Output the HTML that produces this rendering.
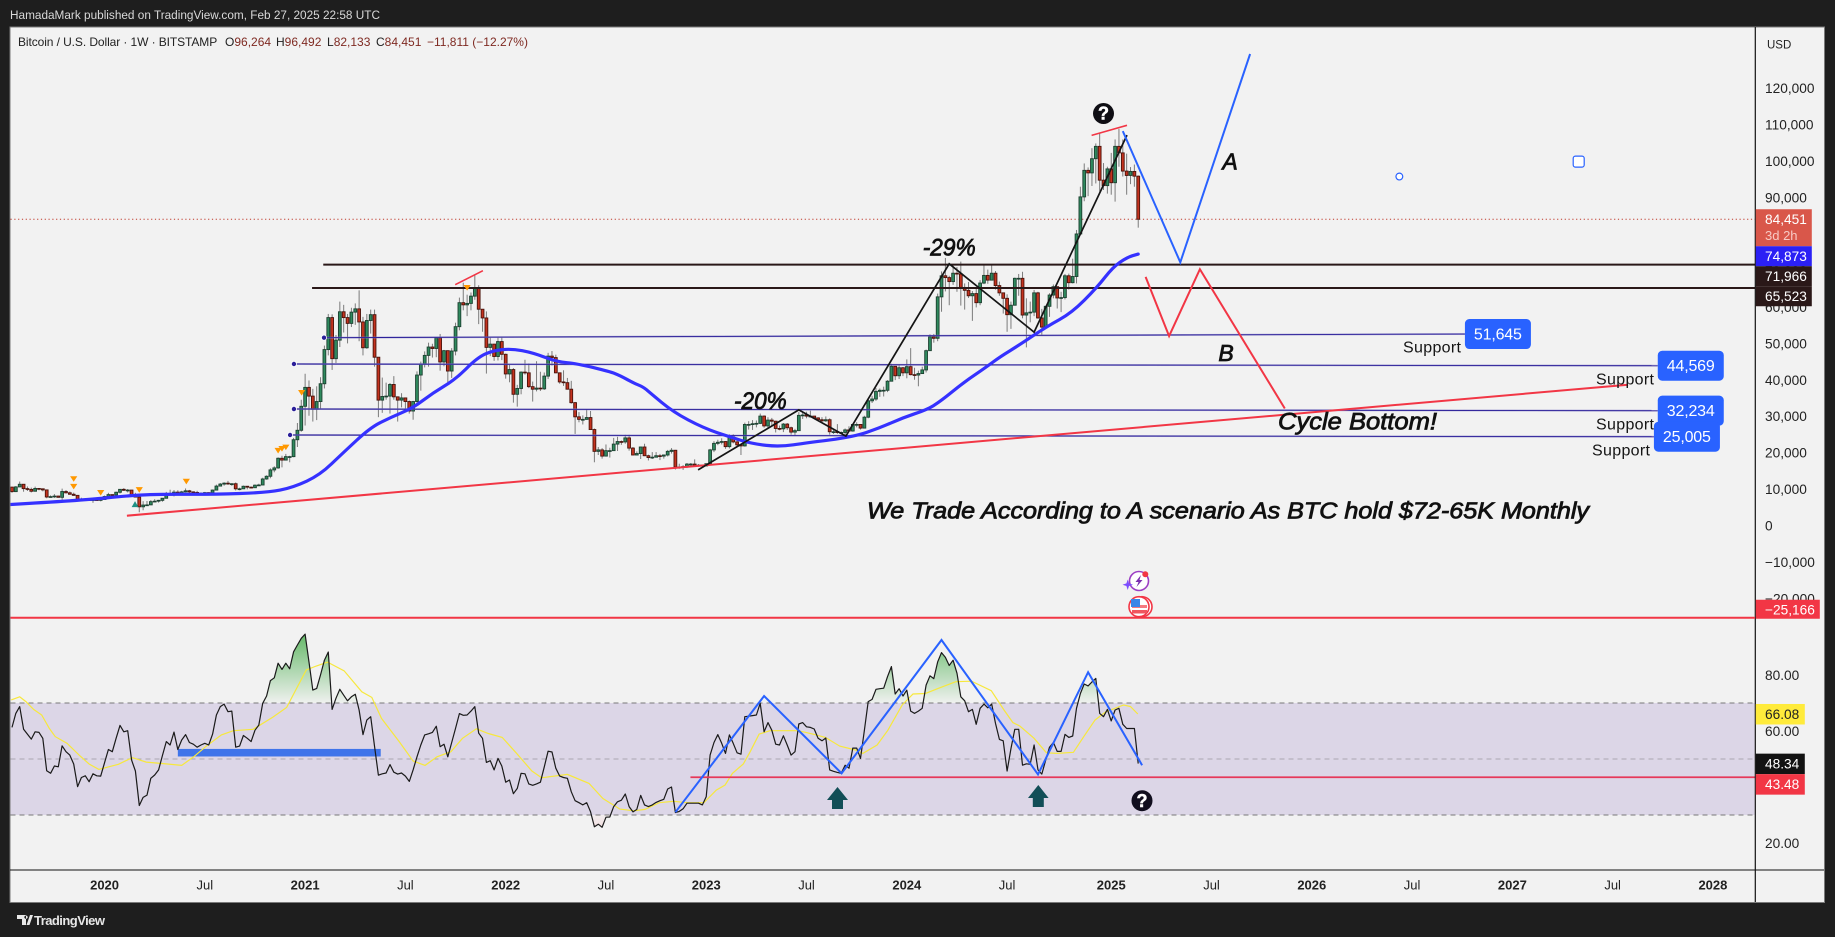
<!DOCTYPE html>
<html lang="en">
<head>
<meta charset="utf-8">
<title>Bitcoin / U.S. Dollar weekly chart</title>
<style>
html,body{margin:0;padding:0;background:#1e1e1e;}
svg{display:block;font-family:"Liberation Sans",sans-serif;}
</style>
</head>
<body>
<svg id="chart" xmlns="http://www.w3.org/2000/svg" width="1835" height="937" viewBox="0 0 1835 937">
  <defs>
    <clipPath id="clipMain"><rect x="10.5" y="27.5" width="1744.5" height="590.5"/></clipPath>
    <clipPath id="clipRsi"><rect x="10.5" y="618" width="1744.5" height="252"/></clipPath>
    <clipPath id="clipOver"><rect x="10.5" y="618" width="1744.5" height="85"/></clipPath>
    <clipPath id="clipUnder"><rect x="10.5" y="815" width="1744.5" height="55"/></clipPath>
    <linearGradient id="gradOver" gradientUnits="userSpaceOnUse" x1="0" y1="634" x2="0" y2="703">
      <stop offset="0" stop-color="#4caf50" stop-opacity="0.85"/>
      <stop offset="1" stop-color="#4caf50" stop-opacity="0.02"/>
    </linearGradient>
    <linearGradient id="gradUnder" gradientUnits="userSpaceOnUse" x1="0" y1="815" x2="0" y2="830">
      <stop offset="0" stop-color="#f23645" stop-opacity="0.02"/>
      <stop offset="1" stop-color="#f23645" stop-opacity="0.12"/>
    </linearGradient>
  </defs>

  <rect x="0" y="0" width="1835" height="937" fill="#1e1e1e"/>
  <text x="10" y="19" font-size="12.3" fill="#d9d9d9" textLength="370" lengthAdjust="spacingAndGlyphs">HamadaMark published on TradingView.com, Feb 27, 2025 22:58 UTC</text>
  <rect x="10" y="27" width="1814.5" height="875.5" fill="#f2f2f2" stroke="#7a7a7a" stroke-width="1"/>

  <g id="rsiBack"></g>
  <g id="mainPane" clip-path="url(#clipMain)"></g>
  <g id="rsiPane" clip-path="url(#clipRsi)"></g>

  <g fill="#111" stroke="#111" stroke-width="0.8" font-style="italic">
    <text x="922.7" y="255.5" font-size="24" textLength="53" lengthAdjust="spacingAndGlyphs">-29%</text>
    <text x="734" y="409" font-size="24" textLength="52.7" lengthAdjust="spacingAndGlyphs">-20%</text>
    <text x="1230" y="169.7" font-size="23" text-anchor="middle">A</text>
    <text x="1226" y="361" font-size="23" text-anchor="middle">B</text>
    <text x="1278" y="429.5" font-size="24.5" textLength="159" lengthAdjust="spacingAndGlyphs">Cycle Bottom!</text>
    <text x="867" y="518.5" font-size="23" textLength="722" lengthAdjust="spacingAndGlyphs">We Trade According to A scenario As BTC hold $72-65K Monthly</text>
  </g>

  <g font-size="16" fill="#151515">
    <text x="1403" y="352.5" textLength="58">Support</text>
    <text x="1596" y="384.5" textLength="58">Support</text>
    <text x="1596" y="429.5" textLength="58">Support</text>
    <text x="1592" y="455.5" textLength="58">Support</text>
  </g>

  <g>
    <circle cx="1103.5" cy="113.5" r="10.5" fill="#0f0e14"/>
    <text x="1103.5" y="119.7" text-anchor="middle" font-size="18" font-weight="700" fill="#fff" stroke="#fff" stroke-width="0.5">?</text>
  </g>
  <g>
    <circle cx="1142" cy="800.7" r="10.5" fill="#110e1e"/>
    <text x="1142" y="806.9" text-anchor="middle" font-size="18" font-weight="700" fill="#fff" stroke="#fff" stroke-width="0.5">?</text>
  </g>
  <g>
    <polygon points="837.5,787 848,800 843,800 843,809 832,809 832,800 827,800" fill="#124e57"/>
  </g>
  <g>
    <polygon points="1038.3,785 1048.6,798 1043.8,798 1043.8,807 1032.8,807 1032.8,798 1028,798" fill="#124e57"/>
  </g>

  <g>
    <circle cx="1139" cy="581" r="9.5" fill="#fff" stroke="#9c3fc4" stroke-width="1.6"/>
    <polygon points="1141,575 1135.5,582 1138.5,582 1136.5,587 1142.5,580 1139.5,580" fill="#7b2fb0"/>
    <polygon points="1127.7,579.5 1129,583.4 1133,584.7 1129,586 1127.7,590 1126.4,586 1122.5,584.7 1126.4,583.4" fill="#7c4dff"/>
    <circle cx="1145.3" cy="574.3" r="3" fill="#f23645"/>
  </g>
  <g>
    <circle cx="1142" cy="606.7" r="10" fill="#fff" stroke="#f23645" stroke-width="1.6"/>
    <circle cx="1139" cy="606.7" r="10" fill="#fff" stroke="#f23645" stroke-width="1.6"/>
    <rect x="1132" y="605" width="15" height="3" fill="#f57a80"/>
    <rect x="1132" y="610" width="15" height="3.5" fill="#f0565f"/>
    <rect x="1131" y="599" width="9" height="8" fill="#3b86e8"/>
  </g>

  <line x1="10" y1="870" x2="1824" y2="870" stroke="#111" stroke-width="1"/>
  <line x1="1755.3" y1="27" x2="1755.3" y2="902" stroke="#111" stroke-width="1.2"/>

  <text x="1767" y="48.5" font-size="11.5" fill="#222">USD</text>
  <g id="priceAxis"></g>
  <g id="rsiAxis"></g>
  <g id="timeAxis"></g>
  <g id="tags"></g>

  <text y="46" font-size="12" fill="#222">
    <tspan x="18" textLength="199">Bitcoin / U.S. Dollar · 1W · BITSTAMP</tspan>
    <tspan x="225">O</tspan><tspan fill="#7f2a22">96,264</tspan>
    <tspan x="276">H</tspan><tspan fill="#7f2a22">96,492</tspan>
    <tspan x="327">L</tspan><tspan fill="#7f2a22">82,133</tspan>
    <tspan x="376">C</tspan><tspan fill="#7f2a22">84,451</tspan>
    <tspan x="427" fill="#7f2a22">−11,811 (−12.27%)</tspan>
  </text>

  <g>
    <path d="M17 915h9v10h-4v-6h-5zM33 915l-3.5 10h-3l3.5-10z M26 915.5a1.7 1.7 0 1 0 .01 0z" fill="#e8e8e8"/>
    <text x="34" y="925" font-size="13" font-weight="700" fill="#e8e8e8" textLength="71">TradingView</text>
  </g>

<script>
// ---------- weekly candles: week -23 (22 Jul 2019) to week 269 (24 Feb 2025), values in thousand USD ----------
const firstWeek = -23;
const firstOpen = 10.77;
const closes = [
 9.53,10.82,11.55,10.35,10.14,9.63,10.4,10.3,10.0,8.05,8.15,8.3,7.96,9.55,9.2,8.8,8.5,7.3,7.4,7.5,7.08,7.3,7.25,7.35,
 8.18,8.7,8.6,9.35,10.15,9.9,9.95,8.52,8.03,5.35,5.83,5.88,6.77,6.9,7.13,7.7,8.9,8.72,9.38,8.9,9.45,9.75,9.45,9.3,9.0,9.07,9.25,9.2,9.95,11.05,11.6,11.85,11.65,11.7,10.3,10.3,11.0,10.75,10.6,11.3,11.35,13.0,13.75,15.5,16.05,18.7,18.2,19.15,19.15,23.8,26.4,33.0,
 38.2,35.8,32.2,34.3,39.2,48.6,57.4,46.1,51.2,59.0,57.4,55.8,58.9,59.8,56.2,49.1,56.6,58.2,46.5,34.7,35.7,35.8,39.0,35.6,34.7,35.3,34.3,31.7,34.3,41.6,44.6,47.0,49.3,48.9,51.8,45.2,48.3,42.7,48.2,54.9,61.5,60.9,61.3,63.3,65.5,59.7,57.3,49.2,50.1,46.7,50.8,47.3,
 41.9,43.1,36.3,37.9,42.4,42.2,38.4,37.7,38.0,37.8,41.3,46.8,46.4,42.2,39.7,39.5,37.7,34.0,30.1,29.4,29.4,29.9,26.6,20.6,21.0,19.3,20.8,20.8,22.6,23.3,23.2,24.3,21.5,19.6,20.0,21.8,19.4,18.9,19.0,19.4,19.3,19.6,20.6,20.9,16.3,16.3,16.4,17.1,17.1,16.8,16.8,16.6,
 17.2,21.0,22.8,23.1,23.3,21.9,24.6,23.2,22.4,22.1,28.0,28.0,28.2,28.3,30.3,27.6,29.2,28.9,26.9,26.8,28.1,27.1,25.9,26.3,30.5,30.6,30.3,30.3,29.8,29.3,29.0,29.3,26.0,26.0,25.8,25.8,26.5,26.2,28.0,28.0,27.0,30.0,34.5,35.0,37.1,37.4,37.4,39.9,44.0,41.4,43.6,42.2,
 43.9,41.7,41.6,42.0,43.0,48.3,52.1,51.7,63.1,68.9,68.4,67.3,69.6,69.4,65.7,64.9,63.4,64.0,61.5,66.9,69.0,67.7,69.6,66.2,64.2,62.7,58.2,60.8,68.2,68.2,58.1,58.7,58.9,64.2,57.3,54.8,60.5,63.6,65.9,62.8,62.9,68.9,67.0,68.7,80.4,90.6,97.9,97.2,101.1,104.5,95.2,93.7,98.3,
 94.5,104.5,102.7,97.7,96.5,97.6,96.3,84.451
];
const highs = [
 10.65,11.05,12.3,11.55,10.95,10.62,10.9,10.45,10.35,10.05,8.5,8.85,8.4,10.35,9.95,9.55,9.25,8.6,7.85,7.75,7.45,7.5,7.7,7.5,
 8.45,9.2,8.75,9.55,10.15,10.5,10.25,9.97,9.2,8.15,6.9,6.95,7.2,7.45,7.25,7.75,9.45,10.05,9.95,9.9,9.75,10.4,10.0,9.6,9.75,9.3,9.45,9.35,10.1,11.45,11.9,12.1,12.48,11.8,12.05,10.6,11.2,10.95,10.95,11.5,11.7,13.35,14.0,15.95,16.5,18.95,19.4,19.9,19.4,24.3,28.4,34.8,
 41.95,40.1,37.8,38.5,41.0,49.7,58.4,58.3,52.6,61.8,60.9,58.4,60.1,61.3,64.9,57.6,58.4,59.6,59.6,46.5,40.9,39.5,39.4,41.3,35.7,36.6,35.1,34.6,34.5,42.6,45.3,48.1,50.5,50.2,52.0,52.9,48.5,46.0,49.0,56.0,62.9,67.0,63.7,64.3,69.0,66.3,59.4,59.1,51.9,50.1,51.9,52.1,
 47.5,44.4,43.5,38.9,42.6,45.8,44.8,39.8,45.4,42.5,42.3,47.7,48.2,47.2,41.5,42.9,40.8,40.0,34.2,31.4,30.5,32.2,31.7,26.9,21.8,21.5,22.5,21.6,24.3,24.6,23.6,25.2,25.2,21.8,20.6,21.9,22.7,19.7,20.4,20.4,19.9,19.7,21.0,21.5,21.0,17.2,16.8,17.4,17.4,18.4,17.1,16.9,
 17.3,21.3,23.4,23.8,24.2,23.4,25.3,25.3,23.9,22.6,28.5,28.9,29.2,29.1,31.0,30.5,30.0,29.8,29.0,27.7,28.4,28.4,27.4,26.8,31.4,31.3,31.5,31.8,30.3,30.0,30.0,30.2,29.7,26.8,28.1,26.1,26.9,27.5,28.0,28.6,28.0,30.4,35.2,35.9,38.0,37.9,38.4,40.2,44.7,43.4,44.3,43.8,
 45.9,49.0,43.6,42.8,43.9,48.6,52.8,52.9,64.0,70.1,73.8,68.9,71.7,71.3,72.8,66.8,67.2,64.7,65.5,67.7,72.0,70.6,71.9,70.2,67.3,63.3,63.8,61.8,68.4,69.4,70.0,62.7,61.8,65.0,64.5,59.8,60.6,64.1,66.5,65.5,64.5,69.4,69.5,73.6,81.5,93.4,99.8,98.7,104.0,105.3,108.3,99.9,98.9,
 102.7,106.4,109.3,106.4,102.5,98.8,99.5,96.492
];
const lows = [
 9.2,9.4,10.9,9.5,9.7,9.3,9.6,9.9,9.6,7.7,7.9,7.8,7.9,7.3,9.0,8.7,8.4,6.8,6.9,7.1,7.0,6.45,7.1,6.85,
 7.6,8.05,8.25,8.6,9.0,9.7,9.3,8.4,8.0,3.85,4.4,5.7,5.9,6.75,6.5,6.75,7.7,8.5,8.2,8.8,8.65,9.3,8.9,9.0,8.85,8.9,9.1,9.05,9.1,9.9,11.0,11.15,11.4,11.1,9.85,9.9,10.3,10.15,10.4,10.55,11.2,11.4,12.8,13.2,14.85,15.8,16.2,18.1,17.6,19.0,21.8,26.0,
 27.7,30.4,28.8,29.2,32.3,37.9,47.0,43.0,44.9,49.3,53.3,50.3,54.8,55.4,50.9,47.0,48.8,53.0,43.9,30.0,31.2,34.8,31.0,34.8,28.8,32.7,32.1,31.0,29.3,34.0,37.3,43.7,43.9,46.4,46.5,42.8,44.0,39.6,40.8,47.0,53.9,59.4,57.8,59.4,62.3,55.6,53.5,42.0,46.8,45.5,45.6,45.7,
 40.6,39.6,34.0,32.9,36.3,41.7,38.0,34.3,37.1,37.2,37.5,40.5,44.2,42.1,39.2,38.6,37.6,33.7,25.4,28.6,28.0,29.3,26.6,17.6,19.6,18.6,19.3,18.9,20.7,20.7,22.4,22.7,20.8,19.6,19.5,18.5,19.3,18.1,18.5,19.0,18.2,18.6,19.2,20.0,15.6,15.8,15.5,16.0,16.7,16.3,16.4,16.3,
 16.5,17.3,20.4,22.3,22.5,21.3,21.4,22.8,21.9,19.6,21.9,26.6,26.5,27.2,28.1,27.1,26.9,27.7,25.8,26.4,25.9,26.5,25.2,24.8,26.3,29.5,29.7,29.9,29.5,29.0,28.6,28.7,25.2,25.4,25.4,25.4,24.9,26.0,26.0,27.2,26.6,27.1,29.7,33.9,34.5,35.6,35.7,36.9,39.9,40.2,40.5,41.3,
 40.7,41.5,40.3,38.5,41.9,42.3,48.3,50.5,50.9,59.0,64.6,60.8,66.4,64.5,60.7,59.6,62.8,56.5,60.2,60.8,66.6,66.7,68.5,65.1,63.4,58.5,53.5,54.3,60.7,63.4,57.2,49.2,56.1,57.8,57.1,52.6,54.6,57.6,62.7,59.9,58.9,62.4,65.1,66.8,66.8,80.3,89.4,90.8,93.6,94.3,92.1,92.5,91.5,
 91.2,89.3,98.9,96.2,91.2,94.1,93.4,82.133
];

// ---------- moving average ----------
const maWeeks = [-24,-5.4,8.4,17.2,29.1,43.1,49.9,56.9,62.8,69.8,75,81,86.2,91.9,97.6,101.7,106.6,112,118.3,123.5,132,134.7,138,140.6,142.4,148.4,156.2,163.2,169.1,176.1,183.1,195,202,208,214.2,217.6,223.6,229.8,233.2,238.3,245.3,251.8,258.3,262.4,266.1,269];
const maValues = [5.95,7.05,8.55,8.85,8.75,9.25,10.65,14.15,20.15,27.05,29.85,32.55,36.75,40.35,46.35,48.35,48.85,47.75,45.25,44.75,42.55,41.45,39.45,38.35,36.75,31.45,27.05,24.55,22.65,21.85,22.95,24.55,27.05,29.85,32.05,34.25,39.45,43.95,46.65,49.95,54.95,58.75,65.65,71.25,73.95,74.873];

// ---------- RSI per week, same weeks as the candles ----------
const rsiValues = [
 61.3,66.3,68.7,60.6,58.9,57.1,59.7,59.5,57.4,45.8,44.9,47.5,47.2,54.7,52.6,51.4,48.2,40.1,43.4,44.0,41.9,44.7,44.0,43.9,
 48.7,53.4,52.6,57.4,62.0,59.7,60.1,49.6,45.7,33.4,36.3,37.1,43.1,44.3,46.1,51.2,56.2,55.0,59.6,53.4,56.8,58.7,55.9,55.3,54.2,55.0,55.6,55.0,58.9,65.7,68.7,69.6,66.9,67.1,54.2,54.6,58.4,57.4,56.2,60.3,62.1,69.9,72.5,78.0,79.0,84.2,82.0,84.2,82.2,88.3,90.7,93.1,
 94.6,84.6,74.6,75.2,80.0,85.3,88.2,67.7,71.7,74.9,72.8,70.8,72.2,73.1,67.5,58.7,63.9,65.1,54.6,44.2,44.7,45.0,48.0,45.3,44.6,45.0,43.9,42.0,46.1,50.8,55.0,58.6,59.0,59.5,61.7,54.4,55.3,50.8,55.9,60.9,66.2,65.6,65.7,67.1,68.7,59.2,57.4,48.8,49.4,46.1,50.2,47.5,
 41.7,42.5,37.6,39.5,44.9,44.7,41.1,40.6,41.1,41.7,47.2,52.8,52.5,46.7,43.9,43.4,43.1,38.3,35.1,34.4,33.6,34.4,31.2,25.8,26.7,25.6,29.2,29.3,33.0,34.7,35.3,37.5,33.0,31.1,32.0,37.0,33.6,33.0,33.6,34.5,35.1,35.6,39.3,40.0,30.9,31.3,32.2,34.2,34.2,34.2,34.2,33.6,
 36.5,51.4,55.9,58.7,55.6,52.0,58.6,55.6,52.2,51.7,65.1,65.3,65.5,65.7,69.9,59.7,63.0,60.3,55.3,55.0,58.3,55.0,51.4,52.6,62.5,63.0,61.5,61.3,60.7,57.4,56.5,57.5,46.1,45.6,45.2,44.9,47.8,46.7,53.9,53.9,50.2,60.3,70.5,71.3,74.9,75.1,75.3,79.4,83.0,73.2,75.1,72.5,
 74.6,67.1,66.3,67.1,68.1,76.4,79.7,78.7,84.7,88.0,86.3,83.4,85.3,80.6,72.2,70.8,66.9,67.7,62.4,68.1,69.6,68.3,69.6,62.7,57.0,56.5,45.7,53.8,60.6,60.6,47.8,48.3,48.1,55.0,46.1,44.6,49.6,54.2,55.9,52.7,52.7,58.8,57.7,58.2,68.1,73.4,76.8,76.1,77.5,78.8,66.3,65.1,67.7,
 63.6,67.5,68.1,62.4,60.9,60.9,60.9,48.34
];
const rsiMaWeeks = [-23.2,-21,-19.4,-17.4,-15.3,-13.3,-11.8,-8.7,-5.6,-3,-0.5,2.1,4.6,8.2,11.8,15.9,21,24.1,27.2,31.3,34.4,39.5,44.6,48.2,50.8,53.3,55.9,58.8,63.1,67.7,70.3,72.8,77.4,81,84.1,87.2,90.8,93.8,97.4,100.5,104.1,107.7,111.8,114.3,121,126.6,130.2,134.6,138.3,141.1,144.8,148.5,152.2,156.4,159.6,161.9,163.8,166.6,168.4,170.7,173.5,180.9,184.6,187.9,191.6,195.7,197.6,201.3,204.1,207.8,210.6,213.8,217.1,221.7,225.8,230.9,234.2,236.5,238.3,242,245.2,248,252.2,254.9,257.8,260.5,265.2,267,268.9];
const rsiMaValues = [71.1,72.2,70.5,67.7,65.7,60.9,58.0,55.6,51.4,48.2,46.3,47.2,48.1,50.5,48.9,48.4,47.7,50.8,54.4,58.6,60.1,60.6,64.9,68.4,75.2,81.8,83.2,84.6,81.5,74.0,72.0,64.5,56.2,49.3,47.7,50.8,52.6,57.4,60.8,59.1,57.7,52.2,45.7,43.3,44.5,41.3,35.9,32.1,31.5,32.0,34.4,34.9,34.4,34.4,38.9,40.7,44.9,48.2,52.6,58.9,60.1,60.1,58.9,57.7,54.6,53.2,52.0,55.0,60.3,69.3,73.2,73.4,75.2,77.6,77.8,74.4,67.5,63.0,61.8,57.4,52.2,52.0,52.4,58.0,63.9,66.8,69.3,68.7,66.08];

// ---------- drawings: week / thousand USD ----------
const supportLabels = [51645,44569,32234,25005];
const supportStartValues = [51.87,44.63,32.25,25.1];
const supportEndValues = [52.88,44.16,31.79,24.63];
const supportStartWeeks = [57.9,50.1,50.1,49.1];
const supportEndWeeks = [353.7,403.7,403.7,402.7];
const levelPrices = [71966,65523];
const levelStartWeeks = [57.7,54.8];
const trendWeeks = [6.8,396];
const trendValues = [2.9,38.94];
const peakOneWeeks = [91.9,99.1];
const peakOneValues = [66.45,70.3];
const peakTwoWeeks = [256.9,266.1];
const peakTwoValues = [107.5,110.3];
const zigzagWeeks = [154.9,181,193.2,220,242,266.1];
const zigzagValues = [15.5,32.0,24.8,72.2,53.4,107.6];
const pathAWeeks = [265,279.9,298];
const pathAValues = [108.7,72.6,129.9];
const pathBWeeks = [270.9,277,285,307];
const pathBValues = [68.6,52.3,70.7,32.4];
const signalWeeks = [46,47,48,52.1,95,-7,-7,0,10,22.2];
const signalValues = [20.8,21.3,21.7,36.7,65.6,13,10.9,9.2,10,12.3];
const buyWeeks = [8.9];
const buyValues = [6.1];
const rsiZigWeeks = [149,172,192.1,218,243,256,270];
const rsiZigValues = [31,72.5,44.9,92.5,44.5,81,47.8];

// ---------- axis data ----------
const priceTicks = [120000,110000,100000,90000,80000,70000,60000,50000,40000,30000,20000,10000,0,-10000,-20000];
const rsiTicks = [80,60,40,20];
const timeLabels = ['2020','Jul','2021','Jul','2022','Jul','2023','Jul','2024','Jul','2025','Jul','2026','Jul','2027','Jul','2028'];
const timeWeeks = [1,27,53,79,105,131,157,183,209,235,262,288,314,340,366,392,418];
const lastClose = 84451;
const maLast = 74873;
const floorLevel = -25166;
const rsiLast = 48.34;
const rsiMaLast = 66.08;
const rsiFloor = 43.48;

// ---------- axis functions ----------
const xOf = w => 100.7 + 3.857 * w;
const yPrice = p => 489.9 - (p - 10000) * 0.0036354;
const yTick = p => 489.3 - (p - 10000) * 0.003645;
const yK = k => yPrice(k * 1000);
const yRsi = v => 843 - (v - 20) * 2.8;

const NS = 'http://www.w3.org/2000/svg';
function mk(tag, attrs, parent) {
  const el = document.createElementNS(NS, tag);
  for (const k in attrs) el.setAttribute(k, attrs[k]);
  parent.appendChild(el);
  return el;
}
const fmt = p => (p < 0 ? '−' : '') + Math.abs(p).toLocaleString('en-US');
const pts = (ws, vs, y) => ws.map((w, i) => xOf(w).toFixed(1) + ',' + y(vs[i]).toFixed(1)).join(' ');
function smooth(ws, vs, y) {
  const px = ws.map(xOf), py = vs.map(y);
  let d = 'M' + px[0].toFixed(1) + ' ' + py[0].toFixed(1);
  for (let i = 1; i < px.length - 1; i++) {
    const mx = (px[i] + px[i + 1]) / 2, my = (py[i] + py[i + 1]) / 2;
    d += ' Q' + px[i].toFixed(1) + ' ' + py[i].toFixed(1) + ' ' + mx.toFixed(1) + ' ' + my.toFixed(1);
  }
  d += ' L' + px[px.length - 1].toFixed(1) + ' ' + py[py.length - 1].toFixed(1);
  return d;
}

const mainPane = document.getElementById('mainPane');
const rsiPane = document.getElementById('rsiPane');
const rsiBack = document.getElementById('rsiBack');
const priceAxis = document.getElementById('priceAxis');
const rsiAxis = document.getElementById('rsiAxis');
const timeAxis = document.getElementById('timeAxis');
const tags = document.getElementById('tags');

// last price dotted line
const lastLine = mk('line', {x1:10.5, x2:1755, y1:yPrice(lastClose), y2:yPrice(lastClose), stroke:'#c0392b', 'stroke-width':1, 'stroke-dasharray':'1.2 2.6'}, mainPane);



// candles
const candleGroup = mk('g', {}, mainPane);


closes.forEach((c, i) => {
  const w = firstWeek + i;
  const o = i ? closes[i - 1] : firstOpen;
  const up = c >= o;
  const x = xOf(w);
  const g = mk('g', {}, candleGroup);
  
  
  mk('line', {x1:x, x2:x, y1:yK(highs[i]), y2:yK(lows[i]), stroke:'#7b7b7b', 'stroke-width':1}, g);
  const top = yK(Math.max(o, c));
  const h = Math.max(Math.abs(yK(o) - yK(c)), 0.8);
  mk('rect', {x:x - 1.4, y:top, width:2.8, height:h, fill: up ? '#2f8a5e' : '#c4331f', stroke: up ? '#1c4030' : '#4a120a', 'stroke-width':0.9}, g);
});

// support lines with labels
supportLabels.forEach((p, i) => {
  const y1 = yK(supportStartValues[i]);
  const y2 = yK(supportEndValues[i]);
  const x1 = xOf(supportStartWeeks[i]);
  const x2 = xOf(supportEndWeeks[i]);
  const g = mk('g', {}, mainPane);
  
  
  mk('line', {x1:x1, x2:x2, y1:y1, y2:y2, stroke:'#8c87c8', 'stroke-width':1.8, opacity:0.75}, g);
  mk('line', {x1:x1, x2:x2, y1:y1, y2:y2, stroke:'#2b1f99', 'stroke-width':0.9}, g);
  mk('circle', {cx:x1, cy:y1, r:2.6, fill:'#2b1f99', stroke:'#ffffff', 'stroke-width':0.8}, g);
  const boxTop = y2 - 15;
  mk('rect', {x:x2, y:boxTop, width:66, height:30, rx:4.5, fill:'#2962ff'}, g);
  const t = mk('text', {x:x2 + 33, y:boxTop + 20.5, 'text-anchor':'middle', 'font-size':16, fill:'#fff', textLength:48}, g);
  t.textContent = fmt(p);
});

// horizontal black levels
levelPrices.forEach((p, i) => {
  const l = mk('line', {x1:xOf(levelStartWeeks[i]), x2:1755, y1:yPrice(p), y2:yPrice(p), stroke:'#2a1818', 'stroke-width':2}, mainPane);
  
  
});

// moving average
const ma = mk('path', {d:smooth(maWeeks, maValues, yK), fill:'none', stroke:'#3531ff', 'stroke-width':3.2, 'stroke-linejoin':'round', 'stroke-linecap':'round'}, mainPane);



// trend line
const trend = mk('polyline', {points:pts(trendWeeks, trendValues, yK), fill:'none', stroke:'#f23645', 'stroke-width':2}, mainPane);


const peakOne = mk('polyline', {points:pts(peakOneWeeks, peakOneValues, yK), fill:'none', stroke:'#f23645', 'stroke-width':1.6}, mainPane);


const peakTwo = mk('polyline', {points:pts(peakTwoWeeks, peakTwoValues, yK), fill:'none', stroke:'#f23645', 'stroke-width':1.6}, mainPane);


const zig = mk('polyline', {points:pts(zigzagWeeks, zigzagValues, yK), fill:'none', stroke:'#151515', 'stroke-width':1.7}, mainPane);


const pathA = mk('polyline', {points:pts(pathAWeeks, pathAValues, yK), fill:'none', stroke:'#2962ff', 'stroke-width':2}, mainPane);


const pathB = mk('polyline', {points:pts(pathBWeeks, pathBValues, yK), fill:'none', stroke:'#f23645', 'stroke-width':2}, mainPane);



// signal markers
signalWeeks.forEach((w, i) => {
  const x = xOf(w), y = yK(signalValues[i]);
  const m = mk('polygon', {points:(x-3.6)+','+(y-2.8)+' '+(x+3.6)+','+(y-2.8)+' '+x+','+(y+2.8), fill:'#ff9800'}, mainPane);
  
  
});
buyWeeks.forEach((w, i) => {
  const x = xOf(w), y = yK(buyValues[i]);
  const m = mk('polygon', {points:(x-3.4)+','+(y+3)+' '+(x+3.4)+','+(y+3)+' '+x+','+(y-3), fill:'#1e9184'}, mainPane);
  
  
});

// small hollow drawings
const hollowCircle = mk('circle', {cx:xOf(336.7), cy:yK(96.2), r:3.4, fill:'#fff', stroke:'#2962ff', 'stroke-width':1.2}, mainPane);


const hollowSquare = mk('rect', {x:xOf(383.2) - 5.5, y:yK(100.3) - 5.5, width:11, height:11, rx:2.2, fill:'#fff', stroke:'#2962ff', 'stroke-width':1.2}, mainPane);



// floor line (between panes, drawn over both)
const floorLine = mk('line', {x1:10.5, x2:1755, y1:yPrice(floorLevel), y2:yPrice(floorLevel), stroke:'#f23645', 'stroke-width':2}, document.getElementById('chart'));



// RSI band
const band = mk('rect', {x:10.5, y:yRsi(70), width:1744, height:yRsi(30) - yRsi(70), fill:'#dcd6e7'}, rsiBack);


[[70,'#787878',1],[50,'#aaa6b0',1],[30,'#787878',1]].forEach(d => {
  const l = mk('line', {x1:10.5, x2:1755, y1:yRsi(d[0]), y2:yRsi(d[0]), stroke:d[1], 'stroke-width':d[2], 'stroke-dasharray':'5 4'}, rsiBack);
  
  
});

// RSI fills
const rsiWeeks = rsiValues.map((v, i) => firstWeek + i);
const rsiPts = pts(rsiWeeks, rsiValues, yRsi);
const xA = xOf(rsiWeeks[0]).toFixed(1), xB = xOf(rsiWeeks[rsiWeeks.length - 1]).toFixed(1);
const over = mk('polygon', {points:xA+','+yRsi(70)+' '+rsiPts+' '+xB+','+yRsi(70), fill:'url(#gradOver)', 'clip-path':'url(#clipOver)'}, rsiPane);


const under = mk('polygon', {points:xA+','+yRsi(30)+' '+rsiPts+' '+xB+','+yRsi(30), fill:'url(#gradUnder)', 'clip-path':'url(#clipUnder)'}, rsiPane);



// RSI drawings
const bar = mk('rect', {x:xOf(20), y:yRsi(53.6), width:xOf(72.6) - xOf(20), height:yRsi(50.9) - yRsi(53.6), fill:'#3f74ea'}, rsiPane);


const rsiMaLine = mk('polyline', {points:pts(rsiMaWeeks, rsiMaValues, yRsi), fill:'none', stroke:'#f7e83c', 'stroke-width':1.2}, rsiPane);


const rsiLine = mk('polyline', {points:rsiPts, fill:'none', stroke:'#1a1a1a', 'stroke-width':1.2, 'stroke-linejoin':'round'}, rsiPane);


const rsiFloorLine = mk('line', {x1:xOf(152.9), x2:1755, y1:yRsi(rsiFloor), y2:yRsi(rsiFloor), stroke:'#e6385a', 'stroke-width':1.8}, rsiPane);


const rsiZig = mk('polyline', {points:pts(rsiZigWeeks, rsiZigValues, yRsi), fill:'none', stroke:'#2962ff', 'stroke-width':2}, rsiPane);



// price axis
priceTicks.forEach(p => {
  const t = mk('text', {x:1765, y:yTick(p) + 4.8, 'font-size':13.7, fill:'#222'}, priceAxis);
  
  
  t.textContent = fmt(p);
});
rsiTicks.forEach(v => {
  const t = mk('text', {x:1765, y:yRsi(v) + 4.8, 'font-size':13.7, fill:'#222'}, rsiAxis);
  
  
  t.textContent = v.toFixed(2);
});
timeLabels.forEach((s, i) => {
  const isYear = s !== 'Jul';
  const t = mk('text', {x:xOf(timeWeeks[i]), y:889.5, 'text-anchor':'middle', 'font-size':13, 'font-weight':isYear ? 700 : 400, fill:'#222'}, timeAxis);
  
  
  t.textContent = s;
});

// axis tags
function addTag(y, height, width, bg, fg, label, sub) {
  const g = mk('g', {}, tags);
  
  
  mk('rect', {x:1755.8, y:y, width:width, height:height, fill:bg}, g);
  const t = mk('text', {x:1765, y:y + 14.8, 'font-size':13.7, fill:fg}, g);
  t.textContent = label;
  if (sub) {
    const s = mk('text', {x:1765, y:y + 31, 'font-size':13, fill:'#f7c9c3'}, g);
    s.textContent = sub;
  }
}
let bottom = 0;
const priceTop = (p, h) => { const top = Math.max(yPrice(p) - 10, bottom); bottom = top + h; return top; };
addTag(priceTop(lastClose, 37), 37, 56, '#d9574a', '#fff', fmt(lastClose), '3d 2h');
addTag(priceTop(maLast, 20), 20, 56, '#2b20f5', '#fff', fmt(maLast));
addTag(priceTop(levelPrices[0], 20), 20, 56, '#2a1818', '#fff', fmt(levelPrices[0]));
addTag(priceTop(levelPrices[1], 20), 20, 56, '#2a1818', '#fff', fmt(levelPrices[1]));
addTag(yPrice(floorLevel) - 18, 19, 64, '#f23645', '#fff', fmt(floorLevel));
bottom = 0;
const rsiTop = v => { const top = Math.max(yRsi(v) - 10, bottom); bottom = top + 20.5; return top; };
addTag(rsiTop(rsiMaLast), 20.5, 49, '#ffeb3b', '#222', rsiMaLast.toFixed(2));
addTag(rsiTop(rsiLast), 20.5, 49, '#121212', '#fff', rsiLast.toFixed(2));
addTag(rsiTop(rsiFloor), 20.5, 49, '#f23645', '#fff', rsiFloor.toFixed(2));
</script>
</svg>
</body>
</html>
